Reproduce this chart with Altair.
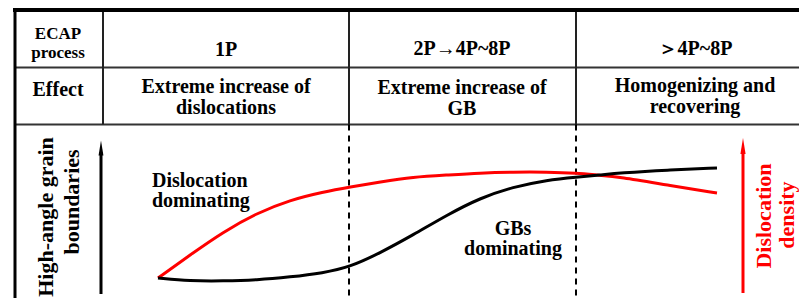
import altair as alt
import pandas as pd

# ---- curve data (process progress -> relative level, diagram units) ----
red_x = [158, 190, 223, 257, 290, 323, 350, 380, 413, 447, 480, 513, 547, 577, 597, 620, 667, 717]
red_y = [278, 255, 232, 213, 200, 192, 187, 182, 177, 175, 173, 172, 172, 173, 175, 177, 185, 193]
black_x = [158, 190, 223, 257, 290, 323, 350, 380, 413, 447, 480, 513, 547, 577, 600, 620, 667, 717]
black_y = [278, 281, 281, 280, 277, 273, 267, 253, 235, 215, 198, 187, 180, 177, 175, 173, 170, 168]

# ---- table structure ----
col_bounds = [103, 349, 576]
row_bounds = [67.5, 124.5]

# ---- texts ----
table_text = ["1P", "2P\u21924P~8P", "\uff1e4P~8P", "Effect",
              "Extreme increase of", "dislocations", "Extreme increase of", "GB",
              "Homogenizing and", "recovering"]
table_tx = [226, 462, 695, 58, 226, 226, 462, 462, 695, 695]
table_ty = [56, 55, 55, 96, 93, 114, 94, 115, 92, 113]

corner_text = ["ECAP", "process"]
corner_tx = [58, 58]
corner_ty = [39, 58]

left_note = ["Dislocation", "dominating"]
left_note_x = [152, 152]
left_note_y = [187, 207]

mid_note = ["GBs", "dominating"]
mid_note_x = [513, 513]
mid_note_y = [235, 255]

vlabel_black = ["High-angle grain", "boundaries"]
vlabel_black_x = [46, 72]
vlabel_black_y = [217, 202]
vlabel_red = ["Dislocation", "density"]
vlabel_red_x = [764, 787]
vlabel_red_y = [216, 215]

XD = [8, 799]
YD = [8, 298]


def X(f="x"):
    return alt.X(f, type="quantitative", scale=alt.Scale(domain=XD, nice=False, zero=False), axis=None)


def Y(f="y"):
    return alt.Y(f, type="quantitative", scale=alt.Scale(domain=YD, nice=False, zero=False, reverse=True), axis=None)


FONT = "Liberation Serif, Times New Roman, Times, DejaVu Serif, serif"

red_curve = alt.Chart(pd.DataFrame({"x": red_x, "y": red_y})).mark_line(
    strokeWidth=3, interpolate="basis", color="#ff0000").encode(x=X(), y=Y())
black_curve = alt.Chart(pd.DataFrame({"x": black_x, "y": black_y})).mark_line(
    strokeWidth=3, interpolate="basis", color="#000000").encode(x=X(), y=Y())

# table lines
top_border = pd.DataFrame({"x": [13], "x2": [799], "y": [10]})
left_border = pd.DataFrame({"x": [15], "y": [8], "y2": [298]})
hlines = pd.DataFrame({"x": [15, 15], "x2": [799, 799], "y": row_bounds})
vlines = pd.DataFrame({"x": col_bounds, "y": [10] * 3, "y2": [row_bounds[1]] * 3})
dashed = pd.DataFrame({"x": col_bounds[1:], "y": [row_bounds[1]] * 2, "y2": [298] * 2})

l_top = alt.Chart(top_border).mark_rule(strokeWidth=4, color="#000").encode(x=X(), x2="x2", y=Y())
l_left = alt.Chart(left_border).mark_rule(strokeWidth=3, color="#000").encode(x=X(), y=Y(), y2="y2")
l_h = alt.Chart(hlines).mark_rule(strokeWidth=2, color="#333").encode(x=X(), x2="x2", y=Y())
l_v = alt.Chart(vlines).mark_rule(strokeWidth=2, color="#222").encode(x=X(), y=Y(), y2="y2")
l_d = alt.Chart(dashed).mark_rule(strokeWidth=2, color="#000", strokeDash=[6, 5]).encode(x=X(), y=Y(), y2="y2")

# arrows
ARROW = "M0,-1L0.32,1L-0.32,1Z"
k_shaft = alt.Chart(pd.DataFrame({"x": [101], "y": [294], "y2": [152]})).mark_rule(
    strokeWidth=3, color="#000").encode(x=X(), y=Y(), y2="y2")
k_head = alt.Chart(pd.DataFrame({"x": [101], "y": [148]})).mark_point(
    shape=ARROW, filled=True, size=230, opacity=1, color="#000", strokeWidth=0).encode(x=X(), y=Y())
r_shaft = alt.Chart(pd.DataFrame({"x": [743], "y": [293], "y2": [150]})).mark_rule(
    strokeWidth=3, color="#ff0000").encode(x=X(), y=Y(), y2="y2")
r_head = alt.Chart(pd.DataFrame({"x": [743], "y": [146]})).mark_point(
    shape=ARROW, filled=True, size=260, opacity=1, color="#ff0000", strokeWidth=0).encode(x=X(), y=Y())

# texts
t_table = alt.Chart(pd.DataFrame({"t": table_text, "x": table_tx, "y": table_ty})).mark_text(
    font=FONT, fontSize=20, fontWeight="bold", align="center", baseline="alphabetic", color="#000"
).encode(x=X(), y=Y(), text="t:N")

t_corner = alt.Chart(pd.DataFrame({"t": corner_text, "x": corner_tx, "y": corner_ty})).mark_text(
    font=FONT, fontSize=17, fontWeight="bold", align="center", baseline="alphabetic", color="#000"
).encode(x=X(), y=Y(), text="t:N")

t_left = alt.Chart(pd.DataFrame({"t": left_note, "x": left_note_x, "y": left_note_y})).mark_text(
    font=FONT, fontSize=20, fontWeight="bold", align="left", baseline="alphabetic", color="#000"
).encode(x=X(), y=Y(), text="t:N")

t_mid = alt.Chart(pd.DataFrame({"t": mid_note, "x": mid_note_x, "y": mid_note_y})).mark_text(
    font=FONT, fontSize=20, fontWeight="bold", align="center", baseline="alphabetic", color="#000"
).encode(x=X(), y=Y(), text="t:N")

t_vb = alt.Chart(pd.DataFrame({"t": vlabel_black, "x": vlabel_black_x, "y": vlabel_black_y})).mark_text(
    font=FONT, fontSize=22, fontWeight="bold", align="center", baseline="middle", angle=270, color="#000"
).encode(x=X(), y=Y(), text="t:N")

t_vr = alt.Chart(pd.DataFrame({"t": vlabel_red, "x": vlabel_red_x, "y": vlabel_red_y})).mark_text(
    font=FONT, fontSize=22, fontWeight="bold", align="center", baseline="middle", angle=270, color="#ff0000"
).encode(x=X(), y=Y(), text="t:N")

chart = alt.layer(
    l_h, l_v, l_d, l_top, l_left, red_curve, black_curve, k_shaft, k_head, r_shaft, r_head,
    t_table, t_corner, t_left, t_mid, t_vb, t_vr
).properties(
    width=791, height=290, padding=0, autosize=alt.AutoSizeParams(type="none"), background="white"
).configure_view(stroke=None)

chart.save("out.html", embed_options={"renderer": "svg", "actions": False})
